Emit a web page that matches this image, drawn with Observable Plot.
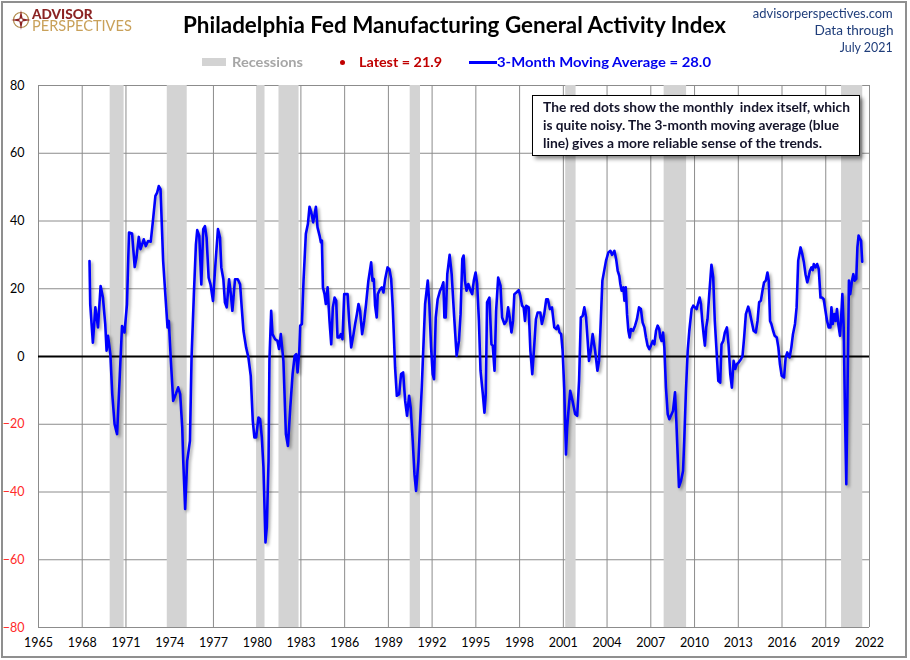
<!DOCTYPE html>
<html>
<head>
<meta charset="utf-8">
<script src="https://cdn.jsdelivr.net/npm/d3@7"></script>
<script src="https://cdn.jsdelivr.net/npm/@observablehq/plot@0.6"></script>
<style>
  body { margin: 0; background: #fff; }
  #wrap { position: relative; width: 910px; height: 660px; overflow: hidden; font-family: Lato, "Open Sans", sans-serif; background: #fff; }
  #border { position: absolute; left: 1px; top: 1px; width: 906px; height: 657px; box-sizing: border-box; border: 2px solid #8f8f8f; pointer-events: none; z-index: 5; }
  .abs { position: absolute; white-space: nowrap; transform-origin: 0 0; }
  #logo { position: absolute; left: 32px; top: 9px; white-space: pre; font-size: 15px; line-height: 10.5px; font-weight: 400; color: #c9a15a; transform-origin: 0 0; }
  #logo::first-line { color: #8b2323; font-weight: 900; font-size: 14px; }
  #chart { position: absolute; left: 0; top: 70px; }
  #note { position: absolute; left: 532px; top: 95px; width: 328px; height: 61px; box-sizing: border-box; border: 1px solid #000; background: #fff;
          box-shadow: 3px 3px 4px rgba(0,0,0,0.45); padding: 2px 0 0 10px; font-weight: 700; font-size: 13.5px; line-height: 18px; color: #14142a; z-index: 3; }
  #note div { white-space: nowrap; transform-origin: 0 0; width: max-content; }
</style>
</head>
<body>
<div id="wrap">
  <div id="border"></div>
  <svg class="abs" style="left:11px;top:10px" width="20" height="20" viewBox="0 0 20 20">
    <circle cx="10" cy="10" r="7.5" fill="none" stroke="#b08a4a" stroke-width="1.2"/>
    <path d="M10 0 L11.6 8.4 L20 10 L11.6 11.6 L10 20 L8.4 11.6 L0 10 L8.4 8.4 Z" fill="#8b2323"/>
    <circle cx="10" cy="10" r="1.6" fill="#fff"/>
  </svg>
  <div id="logo" class="fit" data-w="95">ADVISOR
PERSPECTIVES</div>
  <div class="abs fit" data-w="543" style="left:183px;top:13px;font-size:22px;line-height:24px;font-weight:700;color:#000">Philadelphia Fed Manufacturing General Activity Index</div>
  <div class="abs fitr" data-w="140" style="right:17px;top:5px;font-size:13.5px;line-height:17px;color:#1f3d7a;text-align:right">advisorperspectives.com</div>
  <div class="abs fitr" data-w="79" style="right:17px;top:22px;font-size:13.5px;line-height:17px;color:#1f3d7a;text-align:right">Data through</div>
  <div class="abs fitr" data-w="53" style="right:17px;top:39px;font-size:13.5px;line-height:17px;color:#1f3d7a;text-align:right">July 2021</div>

  <div class="abs" style="left:202px;top:58px;width:24px;height:8px;background:#d3d3d3"></div>
  <div class="abs fit" data-w="71" style="left:232px;top:54px;font-size:14px;line-height:16px;font-weight:700;color:#a6a6a6">Recessions</div>
  <div class="abs" style="left:339.5px;top:59.5px;width:5px;height:5px;border-radius:50%;background:#c00000"></div>
  <div class="abs fit" data-w="83" style="left:359px;top:54px;font-size:14px;line-height:16px;font-weight:700;color:#c00000">Latest = 21.9</div>
  <div class="abs" style="left:469px;top:61px;width:28px;height:2.5px;background:#0000ff"></div>
  <div class="abs fit" data-w="214" style="left:497px;top:54px;font-size:14px;line-height:16px;font-weight:700;color:#0000ee">3-Month Moving Average = 28.0</div>

  <div id="chart"></div>
  <div id="note">
    <div class="nfit" data-w="307">The red dots show the monthly&nbsp; index itself, which</div>
    <div class="nfit" data-w="296">is quite noisy. The 3-month moving average (blue</div>
    <div class="nfit" data-w="279">line) gives a more reliable sense of the trends.</div>
  </div>
</div>
<script>
// ---- Data ----
// 3-month moving average, decimal-year positions and values
const maYears = [
 1968.50,1968.55,1968.73,1968.90,1969.08,1969.26,1969.42,1969.58,1969.67,1969.77,1969.93,1970.06,1970.22,1970.39,1970.57,1970.73,1970.90,
 1971.07,1971.21,1971.42,1971.60,1971.72,1971.88,1972.00,1972.22,1972.36,1972.52,1972.70,1972.86,1973.02,1973.14,1973.25,1973.37,1973.55,
 1973.73,1973.85,1973.94,1974.08,1974.24,1974.42,1974.58,1974.72,1974.86,1974.93,1975.06,1975.20,1975.39,1975.50,1975.66,1975.80,1975.89,
 1976.03,1976.17,1976.30,1976.42,1976.53,1976.67,1976.80,1976.97,1977.15,1977.31,1977.45,1977.54,1977.68,1977.79,1977.91,1978.07,1978.18,
 1978.30,1978.48,1978.67,1978.83,1978.94,1979.06,1979.24,1979.40,1979.56,1979.70,1979.81,1979.93,1980.09,1980.20,1980.32,1980.43,1980.57,
 1980.66,1980.78,1980.84,1980.96,1981.05,1981.23,1981.39,1981.50,1981.62,1981.80,1981.97,1982.11,1982.27,1982.43,1982.57,1982.68,1982.77,
 1982.89,1982.95,1983.07,1983.18,1983.34,1983.48,1983.59,1983.71,1983.84,1984.03,1984.14,1984.28,1984.37,1984.44,1984.51,1984.62,1984.71,
 1984.83,1984.96,1985.08,1985.19,1985.31,1985.42,1985.51,1985.63,1985.74,1985.85,1985.97,1986.20,1986.31,1986.45,1986.61,1986.72,1986.84,
 1986.95,1987.06,1987.20,1987.34,1987.47,1987.63,1987.82,1987.91,1988.00,1988.09,1988.20,1988.27,1988.43,1988.55,1988.66,1988.78,1988.94,
 1989.07,1989.19,1989.30,1989.39,1989.46,1989.58,1989.74,1989.87,1990.01,1990.15,1990.28,1990.42,1990.53,1990.67,1990.79,1990.90,1991.06,
 1991.17,1991.29,1991.40,1991.52,1991.70,1991.81,1991.93,1992.04,1992.13,1992.25,1992.38,1992.54,1992.66,1992.77,1992.84,1992.93,1993.04,
 1993.20,1993.34,1993.50,1993.68,1993.84,1993.95,1994.07,1994.16,1994.25,1994.36,1994.48,1994.64,1994.75,1994.86,1994.98,1995.09,1995.21,
 1995.32,1995.48,1995.59,1995.68,1995.77,1995.93,1996.07,1996.16,1996.28,1996.39,1996.53,1996.69,1996.80,1996.96,1997.10,1997.21,1997.32,
 1997.44,1997.55,1997.64,1997.78,1997.94,1998.05,1998.17,1998.28,1998.37,1998.46,1998.62,1998.74,1998.87,1999.01,1999.12,1999.24,1999.42,
 1999.53,1999.69,1999.83,1999.94,2000.08,2000.22,2000.38,2000.51,2000.63,2000.74,2000.85,2000.95,2001.06,2001.18,2001.26,2001.35,2001.47,
 2001.63,2001.81,2001.95,2002.08,2002.20,2002.33,2002.44,2002.56,2002.67,2002.76,2002.88,2003.01,2003.18,2003.34,2003.45,2003.56,2003.68,
 2003.93,2004.09,2004.23,2004.34,2004.50,2004.62,2004.73,2004.84,2004.91,2005.00,2005.12,2005.19,2005.28,2005.37,2005.46,2005.55,2005.64,
 2005.78,2005.92,2006.05,2006.19,2006.32,2006.44,2006.56,2006.67,2006.78,2006.90,2007.01,2007.13,2007.24,2007.36,2007.47,2007.58,2007.65,
 2007.74,2007.84,2007.93,2008.04,2008.16,2008.27,2008.38,2008.52,2008.66,2008.75,2008.84,2008.93,2009.07,2009.21,2009.30,2009.41,2009.53,
 2009.64,2009.80,2009.91,2010.03,2010.14,2010.23,2010.35,2010.44,2010.53,2010.62,2010.71,2010.80,2010.89,2011.01,2011.16,2011.28,2011.39,
 2011.51,2011.63,2011.76,2011.85,2011.97,2012.08,2012.22,2012.33,2012.45,2012.56,2012.68,2012.79,2012.90,2013.02,2013.18,2013.29,2013.40,
 2013.52,2013.68,2013.79,2014.05,2014.20,2014.32,2014.43,2014.55,2014.66,2014.77,2014.89,2015.00,2015.09,2015.18,2015.27,2015.39,2015.50,
 2015.64,2015.75,2015.86,2015.98,2016.14,2016.25,2016.36,2016.52,2016.64,2016.75,2016.89,2017.00,2017.11,2017.27,2017.39,2017.50,2017.61,
 2017.73,2017.82,2017.91,2018.02,2018.11,2018.18,2018.30,2018.41,2018.52,2018.64,2018.75,2018.86,2018.98,2019.09,2019.20,2019.32,2019.39,
 2019.48,2019.59,2019.68,2019.77,2019.86,2019.98,2020.07,2020.14,2020.23,2020.32,2020.41,2020.50,2020.59,2020.68,2020.80,2020.89,2020.98,
 2021.09,2021.17,2021.25,2021.33,2021.42,2021.50
];
const maValues = [
 28.2,15.4,4.1,14.5,8.6,20.8,17.4,9.5,1.7,6.1,0.7,-11.1,-20,-22.9,-6.2,9,7.1,
 15.4,36.6,36.3,26.4,29.2,35.3,31.7,34.6,32.6,34.1,33.9,40.5,47.4,48.4,50.3,49.4,28.2,
 16.4,8.6,10.5,-1.3,-13.1,-11.1,-9.1,-11.1,-20.9,-30.8,-45,-30.8,-24.9,-0.3,18.4,33.1,37.3,
 35.6,21.3,37.6,38.5,35.1,23.3,21.3,16.4,28.2,37.6,35.1,26.3,22.8,15.9,14.5,22.8,18.9,
 13.5,22.8,22.8,21.3,14.5,7.6,2.7,-0.3,-5.7,-19,-23.9,-23.9,-18,-18.5,-23.9,-32.7,-54.9,
 -50.4,-30.8,-1.3,13.5,6.6,5.1,4.6,2.2,6.6,-1.3,-22.9,-26.4,-15.1,-5.2,0.2,0.7,-4.7,
 1.7,9.1,9.6,22.4,36.2,39.1,44.2,42.6,39.6,44.2,38.1,35.7,33.7,34.2,20.4,18.4,15.5,
 20.4,10.5,3.6,14.5,17.4,16.5,5.6,5.6,6.6,5.1,18.4,18.4,10.5,2.7,6.6,9.6,12.5,
 15.5,13.5,6.6,10.5,15.5,22.4,27.8,22.4,22.9,15,11.5,18.4,19.9,20.4,18.9,22.9,26.3,
 25.8,22.9,14.5,4.6,-3.3,-11.6,-11.1,-5.2,-4.7,-13.1,-17.5,-11.6,-15.1,-24.9,-34.8,-39.7,-30.8,
 -20,-9.2,2.7,15.5,22.4,15.5,2.7,-5.2,-6.7,11.5,16.9,19.4,20.4,21.9,11.5,11.5,24.3,
 30,24.3,12.5,0.2,4.6,12.5,28.8,29.8,22.4,19.4,21.4,19.4,18.4,22.4,24.8,21.4,10.5,
 -4.2,-11.1,-16.6,-11.1,16,17.4,3.6,3.2,-4.2,13.5,23.3,20.9,11.5,9.6,10.5,14.5,11.5,
 7.1,10.5,18.4,18.9,19.6,17.9,15,14.5,10.5,15,14.5,1.7,-5.2,3.6,11,13,13,
 9.6,12.5,16.9,16.9,14,14.5,8.6,8.1,9.1,7.1,6.6,1.7,-9.2,-28.9,-21,-16.1,-10.1,
 -13.1,-17,-17.5,-7.2,11.5,12,14.5,11.5,4.6,-1.3,1.7,6.6,1.7,-4.2,-1.3,9.6,22.4,
 28.3,30.7,31.2,30,31.2,28.8,25.3,23.8,21.4,19.4,20.4,16.5,20.4,12.5,7.6,5.6,8.1,
 7.6,9.1,11,14.5,14,10,8.6,5.6,3.2,2.2,3.2,4.6,3.6,7.6,9.1,8.1,5.6,
 4.6,7.1,2.7,-9.2,-17,-18.5,-17.5,-16.1,-10.6,-19,-28.9,-38.5,-36.7,-33.8,-23.9,-10.1,1.7,
 7.6,14,15,14.5,14,15.5,17.4,15.5,10.5,6.6,3.2,8.6,11,18.4,27.1,23.4,10.5,
 1.7,-7.2,-7.7,3.6,4.6,7.1,8.6,3.6,-5.2,-9.2,-1.3,-3.7,-2.3,-1.8,-0.8,0.2,5.6,
 12.5,14.7,13,7.6,7.1,10.5,16,16.5,19.4,21.9,22.4,24.8,22.4,10.5,9.6,7.6,6.1,
 5.6,2.7,-2.3,-5.7,-6.2,-0.3,1.2,-0.3,2.7,6.6,9.6,14.5,28.3,32.2,30.2,27.8,24.3,
 21.9,23.4,25.3,26.3,25.5,27.3,26.3,27.3,25.8,17.4,17.4,16.9,13.5,10.5,8.6,8.6,14.5,
 9.6,12.5,10.5,14,9.6,6.1,12.5,18.4,8.6,-17,-37.7,-7.2,22.4,18.4,22.4,24.3,22.4,
 22.9,32.2,35.7,34.9,34.2,28.0
];
// NBER recessions (start month, end month)
const recStarts = ["1969-12","1973-11","1980-01","1981-07","1990-07","2001-03","2007-12","2020-02"];
const recEnds   = ["1970-11","1975-03","1980-07","1982-11","1991-03","2001-11","2009-06","2021-07"];
// axis ticks
const xTickYears = [1965,1968,1971,1974,1977,1980,1983,1986,1989,1992,1995,1998,2001,2004,2007,2010,2013,2016,2019,2022];
const yTicks = [80,60,40,20,0,-20,-40,-60,-80];

// ---- helpers ----
function decToDate(y) {
  const yr = Math.floor(y);
  const s = Date.UTC(yr, 0, 1), e = Date.UTC(yr + 1, 0, 1);
  return new Date(s + (y - yr) * (e - s));
}
function monthStart(s) { const [y, m] = s.split("-").map(Number); return new Date(Date.UTC(y, m - 1, 1)); }
function monthMid(s) { const [y, m] = s.split("-").map(Number); return new Date(Date.UTC(y, m - 1, 16)); }

const ma = maYears.map((y, i) => ({date: decToDate(y), value: maValues[i]}));
const recessions = recStarts.map((s, i) => ({start: monthStart(s), end: monthMid(recEnds[i])}));
const xTicks = xTickYears.map(y => new Date(Date.UTC(y, 0, 1)));

const chart = Plot.plot({
  width: 910,
  height: 590,
  marginLeft: 38,
  marginRight: 41,
  marginTop: 15,
  marginBottom: 33,
  style: {fontFamily: "Lato, 'Open Sans', sans-serif", fontSize: "12.5px", background: "transparent", overflow: "visible"},
  x: {type: "utc", domain: [xTicks[0], xTicks[xTicks.length - 1]], ticks: xTicks, label: null},
  y: {domain: [-80, 80], ticks: yTicks, label: null},
  marks: [
    Plot.gridX(xTicks, {stroke: "#8c8c8c", strokeOpacity: 1, strokeWidth: 1}),
    Plot.gridY(yTicks, {stroke: "#8c8c8c", strokeOpacity: 1, strokeWidth: 1}),
    Plot.rect(recessions, {x1: "start", x2: "end", fill: "#d3d3d3"}),
    Plot.ruleY([0], {stroke: "#000", strokeWidth: 2}),
    Plot.line(ma, {x: "date", y: "value", stroke: "#0000ff", strokeWidth: 2.6, strokeLinejoin: "round"}),
    Plot.axisX(xTicks, {tickSize: 0, tickPadding: 11, tickFormat: d => String(d.getUTCFullYear()), fill: "#000", label: null}),
    Plot.axisY(yTicks.filter(t => t >= 0), {tickSize: 0, tickPadding: 14, fill: "#000", label: null}),
    Plot.axisY(yTicks.filter(t => t < 0), {tickSize: 0, tickPadding: 14, fill: "#ff2a2a", label: null})
  ]
});
document.getElementById("chart").appendChild(chart);
// soft shadow on the moving-average line, like the original
d3.select(chart).selectAll("g[aria-label='line'] path").style("filter", "drop-shadow(2px 2px 1.5px rgba(0,0,0,0.35))");

// fit header texts to the widths measured on the reference
document.querySelectorAll(".fit, .nfit").forEach(el => {
  const w = el.getBoundingClientRect().width;
  const target = +el.dataset.w;
  if (w > 0) el.style.transform = `scaleX(${target / w})`;
});
document.querySelectorAll(".fitr").forEach(el => {
  const w = el.getBoundingClientRect().width;
  const target = +el.dataset.w;
  el.style.transformOrigin = "100% 0";
  if (w > 0) el.style.transform = `scaleX(${target / w})`;
});
</script>
</body>
</html>
